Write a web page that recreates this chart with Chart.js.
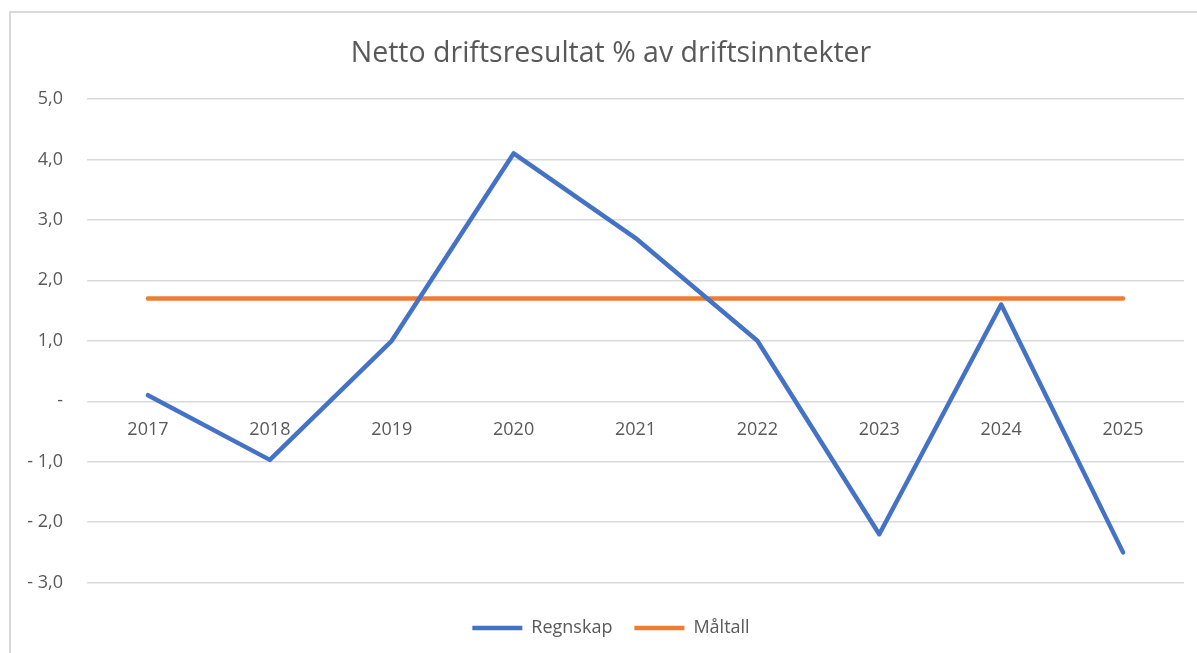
<!DOCTYPE html>
<html>
<head>
<meta charset="utf-8">
<script src="https://cdn.jsdelivr.net/npm/chart.js@4.4.1/dist/chart.umd.min.js"></script>
<style>
  html, body { margin: 0; padding: 0; background: #fff; overflow: hidden; }
  #wrap { position: relative; width: 1197px; height: 653px; }
  #frame {
    position: absolute; left: 9px; top: 11px; width: 1400px; height: 900px;
    border: 2px solid #d9d9d9; pointer-events: none;
  }
</style>
</head>
<body>
<div id="wrap">
  <div id="frame"></div>
  <canvas id="chart"></canvas>
</div>
<script>
// data
const years = ['2017', '2018', '2019', '2020', '2021', '2022', '2023', '2024', '2025'];
const regnskap = [0.1, -0.97, 1.0, 4.1, 2.7, 1.0, -2.2, 1.6, -2.5];
const maltall = [1.7, 1.7, 1.7, 1.7, 1.7, 1.7, 1.7, 1.7, 1.7];
const yTicks = [5, 4, 3, 2, 1, 0, -1, -2, -3];

const textColor = '#595959';
const fontFamily = '"Open Sans", Lato, sans-serif';

// Excel style number labels: "4,0", "-", "- 1,0"
function fmt(v) {
    if (v === 0) return '-';
    const s = Math.abs(v).toFixed(1).replace('.', ',');
    return v < 0 ? '- ' + s : s;
}

// the original chart is wider than the screenshot, so title and legend
// are centred a bit right of the page centre
const centreShift = {
    id: 'centreShift',
    afterLayout(chart) {
        [chart.titleBlock, chart.legend].forEach(box => {
            if (box) {
                box.left += 19;
                box.right += 19;
            }
        });
    }
};

const ctx = document.getElementById('chart').getContext('2d');
new Chart(ctx, {
    type: 'line',
    data: {
        labels: years,
        datasets: [{
            label: 'Regnskap',
            data: regnskap,
            borderColor: '#4472C4',
            backgroundColor: '#4472C4',
            borderWidth: 4.5,
            borderCapStyle: 'round',
            borderJoinStyle: 'round',
            pointRadius: 0,
            pointHoverRadius: 0,
            tension: 0,
            order: 1
        }, {
            label: 'Måltall',
            data: maltall,
            borderColor: '#ED7D31',
            backgroundColor: '#ED7D31',
            borderWidth: 4.5,
            borderCapStyle: 'round',
            pointRadius: 0,
            pointHoverRadius: 0,
            tension: 0,
            order: 2
        }]
    },
    options: {
        responsive: true,
        maintainAspectRatio: false,
        animation: false,
        layout: {
            padding: { top: 20, right: 13, bottom: 6, left: 0 }
        },
        plugins: {
            title: {
                display: true,
                text: 'Netto driftsresultat % av driftsinntekter',
                color: textColor,
                font: { family: fontFamily, size: 28.5, weight: 'normal' },
                padding: { top: 17, bottom: 27.8 }
            },
            legend: {
                position: 'bottom',
                // empty title only used as a spacer above the legend items
                title: {
                    display: true,
                    text: '',
                    font: { size: 2 },
                    padding: { top: 0, bottom: 12 }
                },
                labels: {
                    color: textColor,
                    font: { family: fontFamily, size: 18 },
                    usePointStyle: true,
                    pointStyle: 'line',
                    pointStyleWidth: 50,
                    padding: 22
                }
            },
            tooltip: { enabled: false }
        },
        scales: {
            x: {
                position: { y: 0 },
                offset: true,
                grid: { display: false, drawTicks: false },
                border: { display: false },
                ticks: {
                    color: textColor,
                    font: { family: fontFamily, size: 18 },
                    padding: 18,
                    maxRotation: 0
                }
            },
            y: {
                min: -3,
                max: 5,
                afterFit: function(scale) { scale.width = 87; },
                afterBuildTicks: function(scale) {
                    scale.ticks = yTicks.map(v => ({ value: v }));
                },
                grid: { color: '#d9d9d9', lineWidth: 1.5, drawTicks: false },
                border: { display: false },
                ticks: {
                    color: textColor,
                    font: { family: fontFamily, size: 18 },
                    padding: 24,
                    callback: function(value) { return fmt(value); }
                }
            }
        }
    },
    plugins: [centreShift]
});
</script>
</body>
</html>
